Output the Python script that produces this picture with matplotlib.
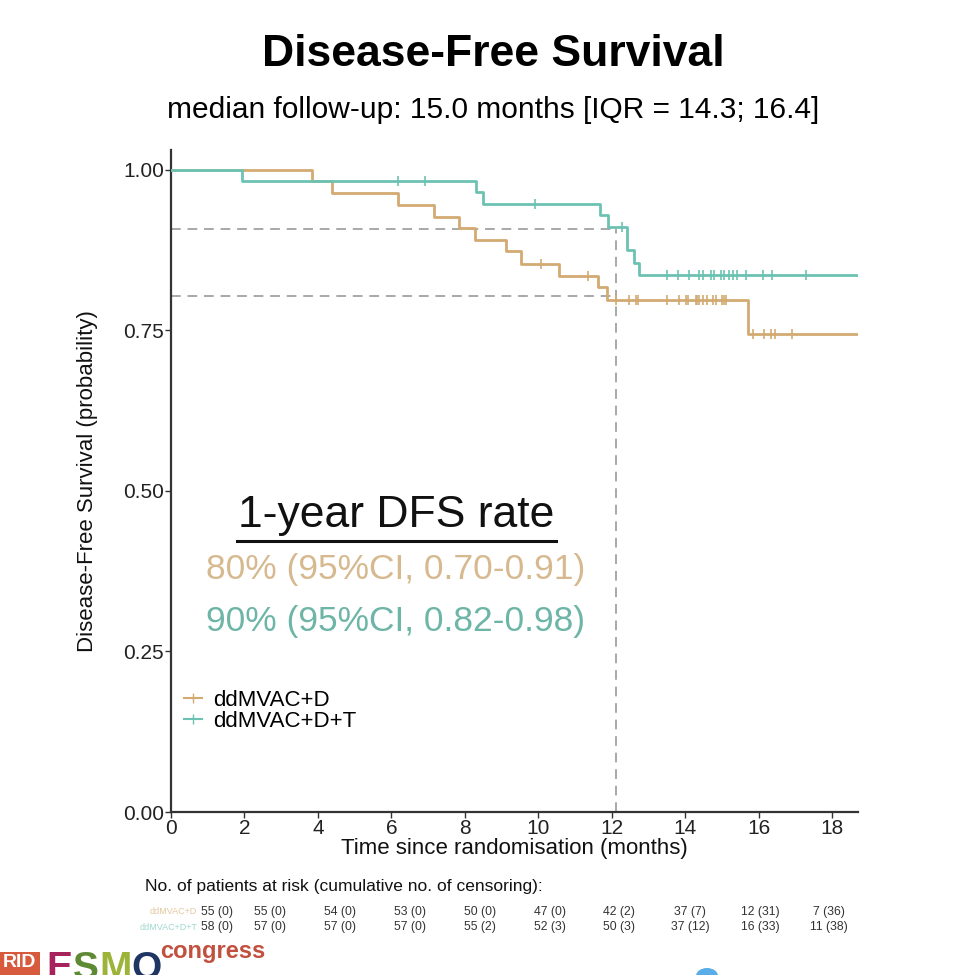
import numpy as np
import matplotlib
matplotlib.use("Agg")
import matplotlib.pyplot as plt
from matplotlib import font_manager
from matplotlib.lines import Line2D
from matplotlib.patches import Rectangle, Ellipse

# ---------------- data ----------------
# Kaplan-Meier step functions: event times (months) and survival after each step
d_times = [0, 3.85, 4.39, 6.18, 7.15, 7.83, 8.28, 9.12, 9.53, 10.57, 11.61, 11.87, 15.71]
d_surv = [1.0, 0.982, 0.964, 0.946, 0.927, 0.909, 0.891, 0.873, 0.854, 0.835, 0.817, 0.798, 0.745]
d_censor = [10.07, 11.34, 12.1, 12.47, 12.65, 12.7, 13.51, 13.83, 14.01, 14.06, 14.29, 14.33,
            14.38, 14.48, 14.6, 14.74, 14.83, 15.01, 15.05, 15.1, 15.84, 16.14, 16.32, 16.43, 16.91]

t_times = [0, 1.92, 8.3, 8.5, 11.68, 11.9, 12.4, 12.6, 12.75]
t_surv = [1.0, 0.983, 0.965, 0.947, 0.929, 0.911, 0.875, 0.855, 0.836]
t_censor = [6.17, 6.92, 9.9, 12.27, 13.49, 13.80, 14.10, 14.38, 14.48, 14.71, 14.78, 14.97,
            15.05, 15.19, 15.30, 15.41, 15.64, 16.11, 16.35, 17.29]

end_time = 18.7
landmark_time = 12.1
landmark_rates = [0.803, 0.908]

groups = ["ddMVAC+D", "ddMVAC+D+T"]
risk_times = [0, 2, 4, 6, 8, 10, 12, 14, 16, 18]
risk_d = ["55 (0)", "55 (0)", "54 (0)", "53 (0)", "50 (0)", "47 (0)", "42 (2)", "37 (7)", "12 (31)", "7 (36)"]
risk_t = ["58 (0)", "57 (0)", "57 (0)", "57 (0)", "55 (2)", "52 (3)", "50 (3)", "37 (12)", "16 (33)", "11 (38)"]
rate_lines = ["80% (95%CI, 0.70-0.91)", "90% (95%CI, 0.82-0.98)"]

# ---------------- style ----------------
W, H = 955, 975
col_d = "#D2AA72"
col_t = "#6CC2B2"
txt_d = "#D6B98F"
txt_t = "#6DB5A6"

names = {f.name for f in font_manager.fontManager.ttflist}
narrow = "Liberation Sans Narrow" in names
base = "Liberation Sans"
plt.rcParams["font.family"] = [base, "DejaVu Sans"]

fig = plt.figure(figsize=(W / 100, H / 100), dpi=100)
fig.patch.set_facecolor("white")

def fx(px):
    return px / W

def fy(py):
    return 1 - py / H

ax = fig.add_axes([fx(171), fy(812), fx(858) - fx(171), fy(150) - fy(812)])
ax.set_xlim(0, end_time)
ax.set_ylim(0, 1.031)

def km_step(times, surv):
    x = list(times) + [end_time]
    y = list(surv) + [surv[-1]]
    return x, y

def surv_at(times, surv, t):
    idx = np.searchsorted(times, t, side="right") - 1
    return np.array(surv)[idx]

for times, surv, cens, col in [(d_times, d_surv, d_censor, col_d), (t_times, t_surv, t_censor, col_t)]:
    x, y = km_step(times, surv)
    ax.step(x, y, where="post", color=col, lw=2.0, zorder=3)
    ax.plot(cens, surv_at(times, surv, cens), ls="none", marker="|", ms=7, mew=1.2,
            color=col, zorder=4)

# landmark dashed lines
for r in landmark_rates:
    ax.plot([0, landmark_time], [r, r], ls=(0, (5, 3.5)), color="#A8A8A8", lw=1.4, zorder=2)
ax.plot([landmark_time, landmark_time], [0, max(landmark_rates)], ls=(0, (5, 3.5)),
        color="#A8A8A8", lw=1.4, zorder=2)

ax.set_xticks(risk_times)
ax.set_yticks([0, 0.25, 0.5, 0.75, 1.0])
ax.set_yticklabels(["0.00", "0.25", "0.50", "0.75", "1.00"])
ax.tick_params(labelsize=15, colors="#333333", length=4, width=1.0, labelcolor="#222222")
ax.tick_params(axis="x", pad=1)
ax.tick_params(axis="y", pad=1)
for s in ["top", "right"]:
    ax.spines[s].set_visible(False)
for s in ["left", "bottom"]:
    ax.spines[s].set_color("#333333")
    ax.spines[s].set_linewidth(1.6)
ax.set_xlabel("Time since randomisation (months)", fontsize=16, color="#111111", labelpad=0)
ax.set_ylabel("Disease-Free Survival (probability)", fontsize=16, color="#111111", labelpad=18)

# legend
handles = [Line2D([], [], color=col_d, marker="|", ms=7, lw=1.5),
           Line2D([], [], color=col_t, marker="|", ms=7, lw=1.5)]
ax.legend(handles, groups, loc="upper left", bbox_to_anchor=(0.0, 0.205), frameon=False,
          fontsize=16, handlelength=0.8, handletextpad=0.5, labelspacing=0.0, borderaxespad=0.2)

# 1-year DFS block
fig.text(fx(396), fy(515), "1-year DFS rate", ha="center", va="center",
         fontsize=32, color="#111111")
fig.add_artist(Line2D([fx(237), fx(556)], [fy(541), fy(541)], color="#111111", lw=2.2))
fig.text(fx(396), fy(570), rate_lines[0], ha="center", va="center", fontsize=25.5, color=txt_d)
fig.text(fx(396), fy(622), rate_lines[1], ha="center", va="center", fontsize=25.5, color=txt_t)

# titles
if narrow:
    fig.text(fx(493), fy(55), "Disease-Free Survival", ha="center", va="center",
             fontsize=38, fontweight="bold", family=["Liberation Sans Narrow", base])
    fig.text(fx(493), fy(110), "median follow-up: 15.0 months [IQR = 14.3; 16.4]",
             ha="center", va="center", fontsize=26, family=["Liberation Sans Narrow", base])
else:
    fig.text(fx(493), fy(55), "Disease-Free Survival", ha="center", va="center",
             fontsize=32, fontweight="bold")
    fig.text(fx(493), fy(110), "median follow-up: 15.0 months [IQR = 14.3; 16.4]",
             ha="center", va="center", fontsize=21.5)

# risk table
fig.text(fx(145), fy(886), "No. of patients at risk (cumulative no. of censoring):",
         ha="left", va="center", fontsize=12.5, color="#111111")
col_px = [217, 270, 340, 410, 480, 550, 619, 690, 760, 829]
for i in range(len(risk_times)):
    fig.text(fx(col_px[i]), fy(912), risk_d[i], ha="center", va="center", fontsize=8.8, color="#333333")
    fig.text(fx(col_px[i]), fy(927), risk_t[i], ha="center", va="center", fontsize=8.8, color="#333333")
fig.text(fx(197), fy(912), groups[0], ha="right", va="center", fontsize=6.5, color="#E2C89E")
fig.text(fx(197), fy(927), groups[1], ha="right", va="center", fontsize=6.5, color="#9FD9CF")

# congress logo fragment
fig.add_artist(Rectangle((fx(0), fy(975)), fx(40), fy(952) - fy(975), transform=fig.transFigure,
                         color="#D85A3C", lw=0))
fig.text(fx(3), fy(954), "RID", ha="left", va="top", fontsize=14, fontweight="bold", color="white")
for ch, xp, c in [("E", 46, "#A6235C"), ("S", 73, "#5E8A34"), ("M", 99, "#9CB43A"), ("O", 131, "#1F3563")]:
    fig.text(fx(xp), fy(951), ch, ha="left", va="top", fontsize=28, fontweight="bold", color=c)
fam_c = ["Liberation Sans Narrow", base] if narrow else [base]
fig.text(fx(160), fy(958), "congress", ha="left", va="baseline", fontsize=21 if narrow else 17,
         fontweight="bold", color="#C2503F", family=fam_c)
fig.add_artist(Ellipse((fx(707), fy(976)), fx(22), fy(960) - fy(976), transform=fig.transFigure,
                       color="#5AAEE8", lw=0))

fig.savefig("out.png", dpi=100, facecolor="white")
